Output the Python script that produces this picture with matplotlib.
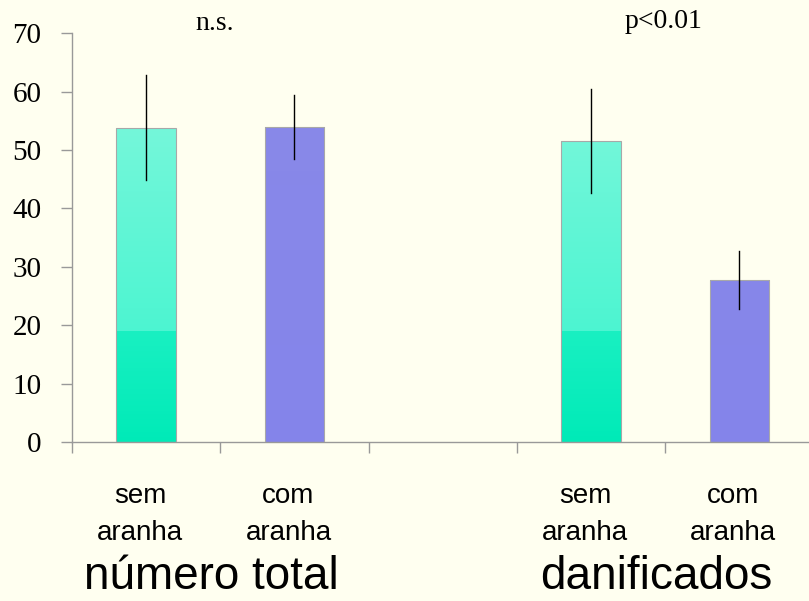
import matplotlib
matplotlib.use("Agg")
import matplotlib.pyplot as plt
import numpy as np
from matplotlib.colors import LinearSegmentedColormap

categories = ["sem\naranha", "com\naranha", "", "sem\naranha", "com\naranha"]
values = [53.8, 53.9, None, 51.5, 27.7]
errors = [9.0, 5.5, None, 8.9, 5.0]
groups = ["número total", "danificados"]
annotations = ["n.s.", "p<0.01"]
yticks = [0, 10, 20, 30, 40, 50, 60, 70]

bg = "#fffff0"
fig = plt.figure(figsize=(8.09, 6.01), dpi=100, facecolor=bg)
ax = fig.add_axes([0.089, 0.2646, 0.911, 0.680], facecolor=bg)

teal = LinearSegmentedColormap.from_list(
    "teal", [(0.0, (0.0, 0.92, 0.72)), (0.27, (0.1, 0.94, 0.76)),
             (0.2701, (0.3, 0.96, 0.82)), (1.0, (0.53, 0.97, 0.87))])
blue = LinearSegmentedColormap.from_list(
    "blue", [(0.0, (0.52, 0.52, 0.92)), (1.0, (0.54, 0.54, 0.91))])
cmaps = [teal, blue, None, teal, blue]

x = np.arange(len(categories))
width = 0.40
for i, (v, e, cm) in enumerate(zip(values, errors, cmaps)):
    if v is None:
        continue
    bar = ax.bar(x[i], v, width=width, color="none", edgecolor="#a8a8a8",
                 linewidth=0.8, zorder=3)[0]
    grad = np.linspace(0, v / 70.0, 256).reshape(-1, 1)
    im = ax.imshow(grad, cmap=cm, vmin=0, vmax=1, origin="lower", aspect="auto",
                   extent=[x[i] - width / 2, x[i] + width / 2, 0, v],
                   zorder=2, interpolation="nearest")
    im.set_clip_path(bar)
    ax.plot([x[i], x[i]], [v - e, v + e], color="black", lw=1.0, zorder=4)

ax.set_xlim(-0.5, 4.47)
ax.set_ylim(0, 70)
ax.set_yticks(yticks)
ax.set_yticklabels([str(t) for t in yticks], fontfamily="Liberation Serif", fontsize=21)
ax.set_xticks(np.arange(-0.5, 4.0, 1.0))
ax.set_xticklabels([])
ax.tick_params(axis="y", direction="out", length=8, color="#999999", width=1, pad=14)
ax.tick_params(axis="x", direction="out", length=8, color="#999999", width=1)
for s in ["top", "right"]:
    ax.spines[s].set_visible(False)
for s in ["left", "bottom"]:
    ax.spines[s].set_color("#999999")
    ax.spines[s].set_linewidth(1)

sans = ["Liberation Sans", "DejaVu Sans"]
for i, lab in enumerate(categories):
    if lab:
        lines = lab.split("\n")
        for j, line in enumerate(lines):
            ax.text(x[i] - 0.04, -10.4 - 6.4 * j, line, ha="center", va="baseline",
                    fontsize=20, family=sans)
ax.text(0.44, -25.2, groups[0], ha="center", va="baseline", fontsize=33, family=sans)
ax.text(3.44, -25.2, groups[1], ha="center", va="baseline", fontsize=33, family=sans)
ax.text(0.46, 70.5, annotations[0], ha="center", va="baseline", fontsize=20,
        fontfamily="Liberation Serif")
ax.text(3.49, 70.85, annotations[1], ha="center", va="baseline", fontsize=20,
        fontfamily="Liberation Serif")

fig.savefig("out.png", dpi=100, facecolor=bg)
